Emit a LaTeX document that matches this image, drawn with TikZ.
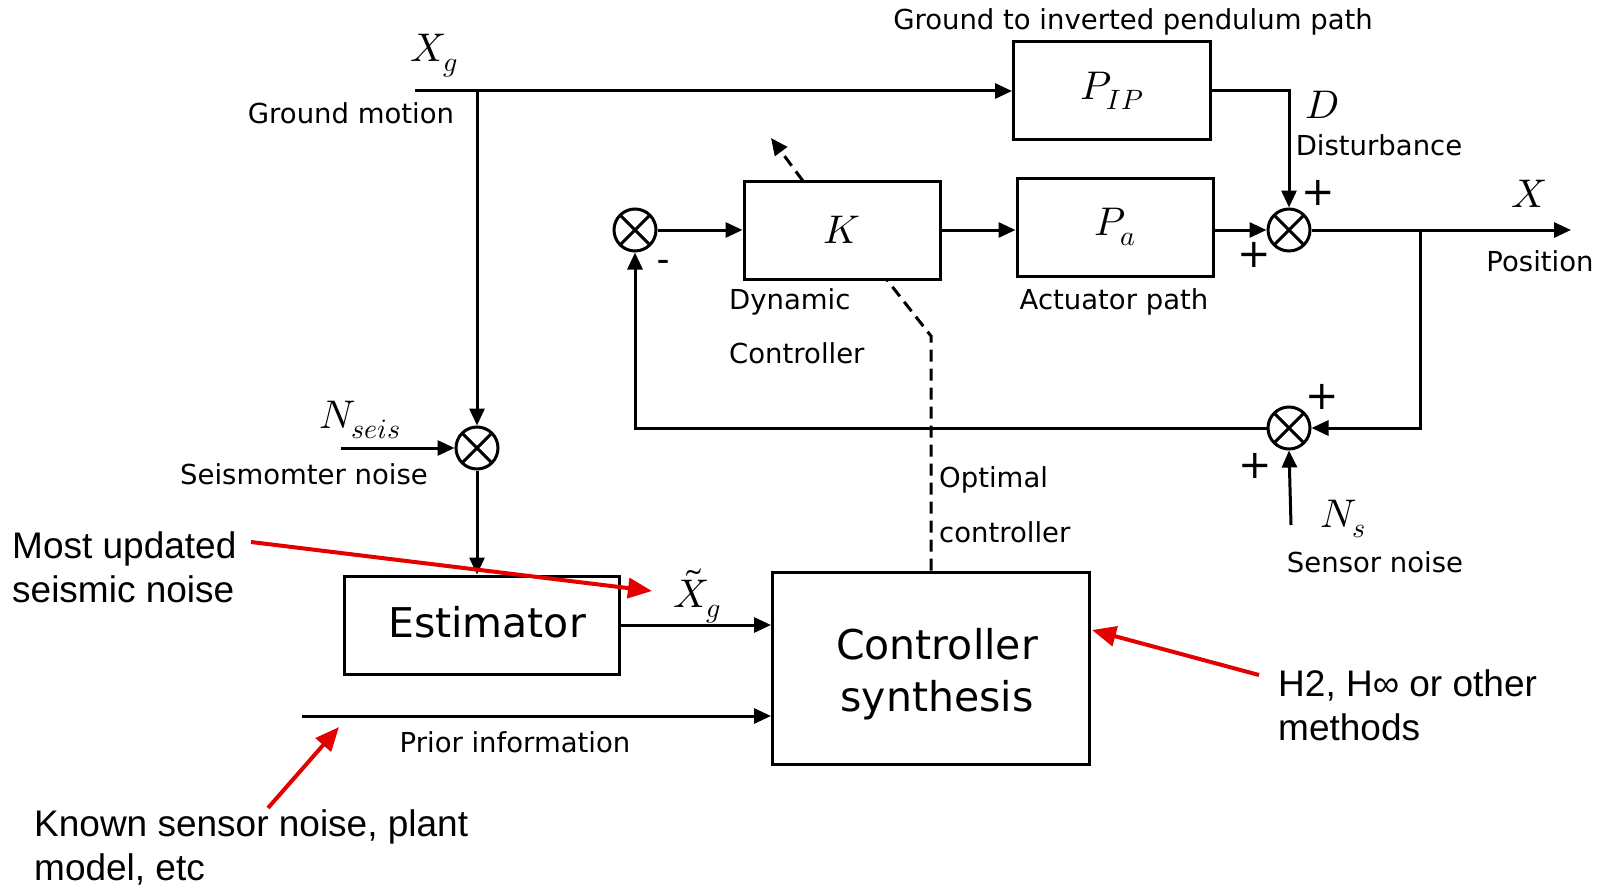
\documentclass[tikz,border=0pt]{standalone}
\usepackage{fontspec}
\usepackage{unicode-math}
\setmainfont{DejaVu Sans}
\setmathfont{Latin Modern Math}
\newfontfamily\arialf{Liberation Sans}
\usetikzlibrary{arrows.meta}
\begin{document}
\begin{tikzpicture}[x=1pt,y=-1pt,
  wire/.style={line width=3pt},
  arr/.style={line width=3pt,-{Triangle[length=17pt,width=15pt]}},
  dsh/.style={line width=3pt,dash pattern=on 12pt off 7pt},
  redarr/.style={line width=4pt,red!90!black,-{Triangle[length=24pt,width=20pt]}},
  blk/.style={draw,line width=3pt,inner sep=0pt},
  sumj/.style={circle,draw,line width=3pt,minimum size=42pt,inner sep=0pt,
    path picture={\draw[line width=3pt]
      (path picture bounding box.north west)--(path picture bounding box.south east)
      (path picture bounding box.north east)--(path picture bounding box.south west);}},
  lbl/.style={font=\fontsize{27.5}{32}\selectfont,inner sep=0pt},
  sgn/.style={font=\fontsize{40}{44}\selectfont,inner sep=0pt},
  big/.style={font=\fontsize{41}{52}\selectfont,inner sep=0pt,align=center},
  mth/.style={font=\fontsize{40}{44}\selectfont,inner sep=0pt},
  note/.style={font=\arialf\fontsize{37}{44}\selectfont,inner sep=0pt,align=left,anchor=west}
]
\fill[white] (0,0) rectangle (1598,888);
\useasboundingbox (0,0) rectangle (1598,888);

% blocks
\node[blk,minimum width=197pt,minimum height=98pt] (pip) at (1112,91) {};
\node[mth] (pipt) at (pip.center) {$P_{IP}$};
\node[blk,minimum width=196pt,minimum height=98pt] (K) at (842,230) {};
\node[mth] (Kt) at (K.center) {$K$};
\node[blk,minimum width=196pt,minimum height=98pt] (pa) at (1115,227) {};
\node[mth] (pat) at (pa.center) {$P_a$};
\node[blk,minimum width=275pt,minimum height=98pt] (est) at (482,625) {};
\node[big] (estt) at (487,622) {Estimator};
\node[blk,minimum width=317pt,minimum height=192pt] (cs) at (931,668) {};
\node[big] (cst) at (937,674) {Controller\\synthesis};

% summing junctions
\node[sumj] (sxg) at (477,448) {};
\node[sumj] (sl) at (635,230) {};
\node[sumj] (sr1) at (1289,230) {};
\node[sumj] (sr2) at (1289,428) {};

% free ends
\coordinate (xgstart) at (415,91);
\coordinate (xgj) at (477,91);
\coordinate (nsstart) at (341,448);
\coordinate (prior) at (302,716);
\coordinate (xout) at (1571,230);
\coordinate (fbj) at (1420,230);
\coordinate (nsens) at (1291,525);
\coordinate (dk1) at (931,336);
\coordinate (dk2) at (887,280);
\coordinate (dk3) at (803,181);
\coordinate (dk4) at (771,138);

% connectors
\draw[wire] (xgstart) -- (xgj);
\draw[arr] (xgj) -- (pip.west |- xgj);
\draw[arr] (xgj) -- (sxg.north);
\draw[arr] (nsstart) -- (sxg.west);
\draw[arr] (sxg.south) -- (sxg.south |- est.north);
\draw[arr] (est.east) -- (cs.west |- est.east);
\draw[arr] (prior) -- (cs.west |- prior);
\draw[arr] (pip.east) -| (sr1.north);
\draw[arr] (sl.east) -- (K.west |- sl.east);
\draw[arr] (K.east) -- (pa.west |- K.east);
\draw[arr] (pa.east |- sr1.west) -- (sr1.west);
\draw[arr] (sr1.east) -- (xout);
\draw[arr] (fbj) |- (sr2.east);
\draw[arr] (sr2.west) -| (sl.south);
\draw[arr] (nsens) -- (sr2.south);
\draw[dsh] (cs.north -| dk1) -- (dk1) -- (dk2);
\draw[dsh,-{Triangle[length=17pt,width=15pt]}] (dk3) -- (dk4);

% labels
\node[mth] (xg) at (434,56) {$X_g$};
\node[lbl] (gm) at (351,113) {Ground motion};
\node[lbl] (gip) at (1133,22) {Ground to inverted pendulum path};
\node[mth] (D) at (1322,105) {$D$};
\node[lbl] (dist) at (1379,145) {Disturbance};
\node[sgn] (p1) at (1318,193) {+};
\node[sgn] (p2) at (1254,255) {+};
\node[mth] (X) at (1529,194) {$X$};
\node[lbl] (pos) at (1540,261) {Position};
\node[lbl] (act) at (1114,302) {Actuator path};
\node[lbl,anchor=west] (dyn) at (729,302) {Dynamic};
\node[lbl,anchor=west] (ctl) at (729,353) {Controller};
\node[lbl,font=\fontsize{24}{28}\selectfont\bfseries] (m1) at (663,264) {–};
\node[sgn] (p3) at (1322,397) {+};
\node[sgn] (p4) at (1255,466) {+};
\node[mth] (Ns) at (1343,519) {$N_s$};
\node[lbl] (sn) at (1375,562) {Sensor noise};
\node[lbl,anchor=west] (opt) at (939,480) {Optimal};
\node[lbl,anchor=west] (ctl2) at (939,532) {controller};
\node[mth] (nseis) at (360,420) {$N_{seis}$};
\node[lbl] (smn) at (304,474) {Seismomter noise};
\node[mth] (xt) at (697,596) {$\tilde{X}_g$};
\node[lbl] (pri) at (515,742) {Prior information};

% annotations
\node[note] (n1) at (12,567) {Most updated\\seismic noise};
\node[note] (n2) at (1278,705) {H2, H∞ or other\\methods};
\node[note] (n3) at (34,847) {Known sensor noise, plant\\model, etc};
\coordinate (r1a) at (251,542);
\coordinate (r1b) at (652,591);
\coordinate (r2a) at (1259,675);
\coordinate (r2b) at (1092,630);
\coordinate (r3a) at (268,808);
\coordinate (r3b) at (339,727);
\draw[redarr] (r1a) -- (r1b);
\draw[redarr] (r2a) -- (r2b);
\draw[redarr] (r3a) -- (r3b);
\end{tikzpicture}
\end{document}
